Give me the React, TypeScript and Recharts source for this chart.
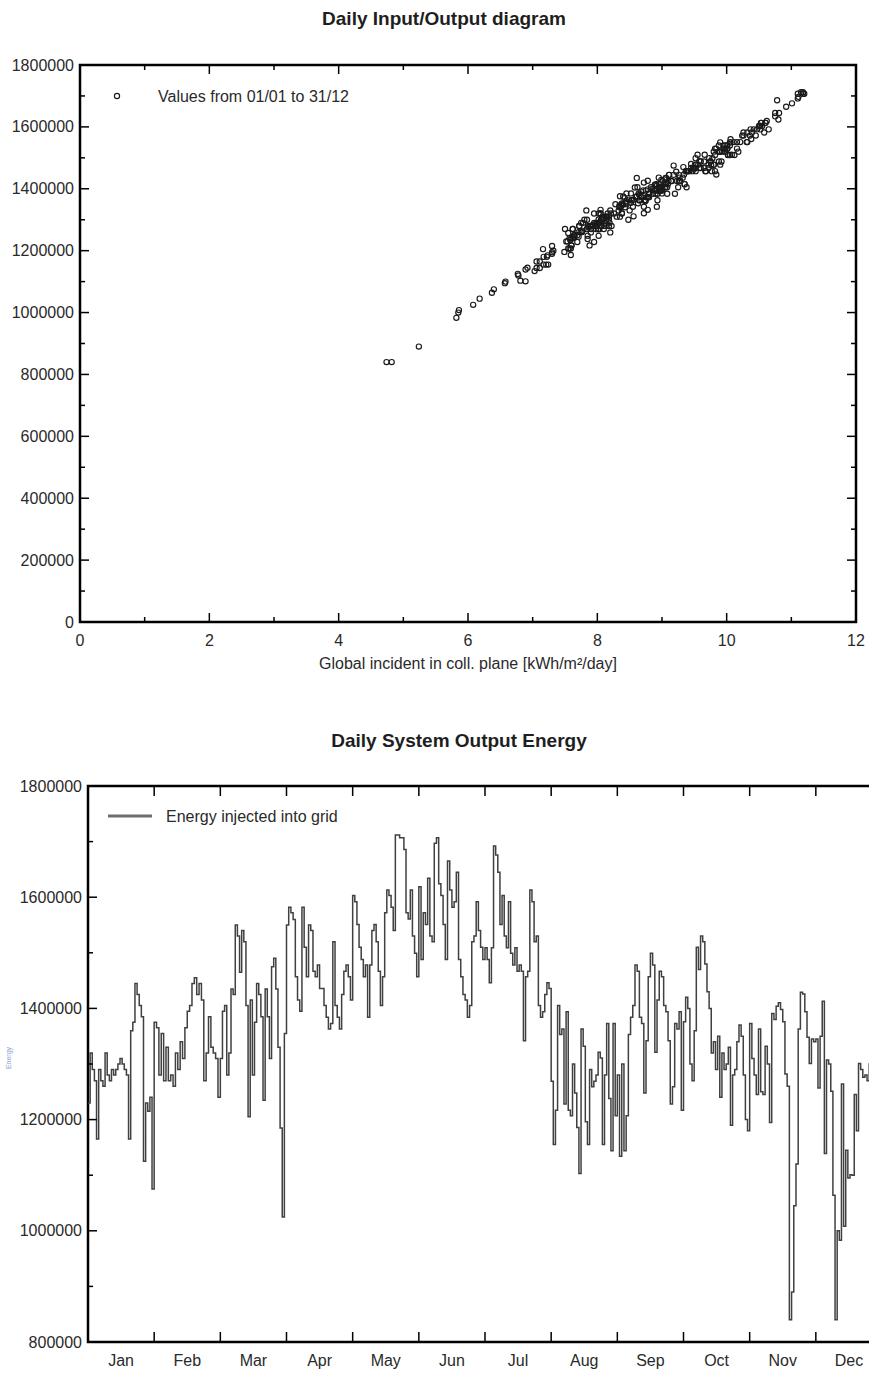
import React from 'react';
import { ScatterChart, Scatter, XAxis, YAxis, ReferenceArea, LineChart, Line } from 'recharts';

// ---------- data ----------
const MONTHS = ['Jan', 'Feb', 'Mar', 'Apr', 'May', 'Jun', 'Jul', 'Aug', 'Sep', 'Oct', 'Nov', 'Dec'];
const DAYS_IN_MONTH = [31, 28, 31, 30, 31, 30, 31, 31, 30, 31, 30, 31];
const ENERGY_UNIT = 1000; // arrays below are in thousands

// daily energy injected into grid (thousands)
const E_JAN = [1230, 1320, 1290, 1270, 1165, 1290, 1270, 1260, 1320, 1280, 1270, 1290, 1280, 1290, 1300, 1310, 1300, 1290, 1280, 1165, 1360, 1375, 1445, 1425, 1405, 1385, 1125, 1230, 1215, 1240, 1075];
const E_FEB = [1375, 1365, 1280, 1355, 1270, 1330, 1270, 1280, 1260, 1320, 1290, 1340, 1310, 1365, 1395, 1405, 1445, 1455, 1425, 1445, 1415, 1270, 1320, 1385, 1330, 1320, 1310, 1240];
const E_MAR = [1310, 1395, 1405, 1280, 1320, 1435, 1425, 1550, 1530, 1465, 1540, 1520, 1405, 1205, 1415, 1280, 1375, 1445, 1425, 1385, 1235, 1435, 1385, 1310, 1475, 1490, 1435, 1330, 1185, 1025, 1355];
const E_APR = [1550, 1582, 1572, 1560, 1457, 1415, 1395, 1582, 1510, 1457, 1550, 1540, 1467, 1457, 1478, 1436, 1436, 1405, 1384, 1363, 1373, 1520, 1405, 1384, 1363, 1425, 1467, 1478, 1457, 1415];
const E_MAY = [1603, 1592, 1551, 1510, 1488, 1457, 1478, 1384, 1478, 1540, 1551, 1520, 1467, 1405, 1457, 1572, 1613, 1603, 1582, 1540, 1712, 1712, 1707, 1707, 1686, 1572, 1561, 1613, 1530, 1499, 1457];
const E_JUN = [1619, 1488, 1572, 1551, 1634, 1530, 1520, 1697, 1707, 1624, 1603, 1551, 1488, 1665, 1613, 1582, 1592, 1645, 1488, 1457, 1425, 1415, 1384, 1405, 1520, 1530, 1592, 1540, 1510, 1488];
const E_JUL = [1509, 1488, 1446, 1509, 1692, 1676, 1645, 1551, 1603, 1530, 1509, 1592, 1499, 1478, 1509, 1467, 1478, 1467, 1342, 1457, 1467, 1613, 1592, 1520, 1530, 1405, 1384, 1394, 1425, 1446, 1436];
const E_AUG = [1269, 1155, 1217, 1405, 1353, 1363, 1228, 1394, 1217, 1207, 1300, 1248, 1186, 1103, 1363, 1332, 1196, 1155, 1290, 1259, 1269, 1280, 1321, 1311, 1155, 1280, 1373, 1238, 1144, 1373, 1207];
const E_SEP = [1280, 1134, 1300, 1144, 1207, 1353, 1384, 1405, 1478, 1467, 1384, 1373, 1248, 1342, 1457, 1499, 1478, 1321, 1415, 1467, 1457, 1405, 1394, 1342, 1228, 1259, 1373, 1363, 1394, 1217];
const E_OCT = [1376, 1420, 1400, 1300, 1270, 1360, 1510, 1470, 1530, 1520, 1480, 1430, 1400, 1320, 1340, 1290, 1350, 1240, 1320, 1290, 1300, 1330, 1190, 1280, 1290, 1340, 1370, 1350, 1280, 1200, 1180];
const E_NOV = [1373, 1310, 1280, 1245, 1363, 1250, 1245, 1332, 1300, 1195, 1391, 1380, 1404, 1410, 1398, 1376, 1282, 1260, 840, 890, 1045, 1120, 1363, 1429, 1426, 1394, 1348, 1301, 1345, 1340];
const E_DEC = [1345, 1257, 1350, 1413, 1139, 1307, 1300, 1251, 1064, 840, 1000, 983, 1264, 1008, 1145, 1095, 1101, 1100, 1245, 1180, 1301, 1290, 1276, 1280, 1270, 1300, 1250, 1290, 1310, 1280, 1260];

// daily global incident irradiation in collector plane (kWh/m2/day)
const I_JAN = [7.54, 8.16, 8.01, 7.62, 7.11, 8.12, 7.84, 7.71, 8.05, 7.89, 7.98, 7.99, 7.72, 7.95, 8.06, 8.30, 8.08, 7.75, 7.91, 7.06, 8.45, 8.40, 9.11, 9.10, 8.83, 8.64, 6.77, 7.52, 7.30, 7.57, 6.40];
const I_FEB = [8.61, 8.49, 8.18, 8.44, 7.62, 8.20, 8.10, 7.89, 7.76, 7.95, 8.04, 8.35, 8.35, 8.56, 8.71, 8.62, 9.11, 9.22, 9.15, 9.18, 8.91, 7.50, 8.21, 8.45, 8.33, 8.38, 8.13, 7.60];
const I_MAR = [8.18, 8.98, 8.95, 7.93, 8.05, 9.06, 9.28, 9.90, 9.82, 9.50, 9.88, 9.80, 9.05, 7.16, 8.96, 8.22, 8.61, 9.26, 9.01, 8.52, 7.58, 8.61, 9.00, 8.15, 9.18, 9.58, 9.06, 7.83, 7.23, 6.08, 8.52];
const I_APR = [10.05, 10.26, 10.45, 10.06, 9.37, 9.35, 8.88, 10.32, 9.55, 9.42, 10.06, 9.95, 9.48, 9.52, 9.53, 9.27, 8.95, 8.99, 8.80, 8.93, 8.68, 9.88, 8.96, 9.08, 8.65, 9.14, 9.50, 9.72, 9.40, 9.06];
const I_MAY = [10.50, 10.37, 10.16, 10.02, 9.60, 9.68, 9.56, 8.93, 9.80, 9.98, 10.11, 10.18, 9.45, 9.25, 9.67, 10.24, 10.53, 10.52, 10.58, 10.01, 11.15, 11.18, 11.18, 11.10, 10.78, 10.26, 10.38, 10.54, 9.98, 9.73, 9.82];
const I_JUN = [10.62, 9.92, 10.36, 10.32, 10.75, 10.16, 9.93, 11.11, 11.20, 10.80, 10.55, 10.31, 9.88, 10.92, 10.60, 10.39, 10.65, 10.75, 9.75, 9.77, 9.23, 9.35, 8.90, 9.38, 9.88, 10.01, 10.52, 10.05, 10.08, 9.65];
const I_JUL = [10.05, 9.75, 9.84, 10.02, 11.10, 11.01, 10.81, 10.21, 10.52, 10.01, 10.12, 10.42, 9.78, 9.90, 9.82, 9.58, 9.80, 9.60, 8.92, 9.47, 9.72, 10.60, 10.47, 9.98, 9.96, 9.08, 9.20, 8.97, 9.26, 9.34, 9.32];
const I_AUG = [8.03, 7.24, 7.88, 9.05, 8.63, 8.75, 7.95, 9.00, 7.60, 7.59, 8.48, 7.85, 7.59, 6.81, 8.73, 8.78, 7.49, 7.21, 8.19, 8.20, 8.01, 8.11, 8.72, 8.56, 7.17, 8.13, 8.80, 7.85, 7.11, 8.78, 7.57];
const I_SEP = [8.06, 7.03, 8.18, 7.06, 7.55, 8.38, 8.86, 8.95, 9.76, 9.50, 8.80, 8.76, 8.02, 8.55, 9.37, 9.52, 9.51, 8.38, 9.09, 9.65, 9.39, 8.98, 8.95, 8.72, 7.69, 7.90, 8.78, 8.65, 8.91, 7.60];
const I_OCT = [8.67, 8.72, 8.88, 8.08, 7.90, 8.74, 9.66, 9.33, 9.84, 9.90, 9.45, 9.04, 8.85, 8.02, 8.43, 8.02, 8.28, 7.62, 8.26, 8.01, 8.14, 8.50, 7.30, 7.93, 8.05, 8.35, 8.42, 8.45, 7.99, 7.32, 7.22];
const I_NOV = [8.60, 8.08, 7.72, 7.64, 8.53, 7.64, 7.71, 8.05, 8.06, 7.30, 8.68, 8.65, 8.58, 8.92, 8.78, 8.35, 7.93, 7.74, 4.82, 5.24, 6.18, 6.78, 8.53, 8.99, 8.78, 8.75, 8.39, 8.07, 8.34, 8.35];
const I_DEC = [8.37, 7.55, 8.38, 8.89, 6.89, 8.09, 7.84, 7.65, 6.37, 4.74, 5.85, 5.82, 7.77, 5.86, 6.92, 6.57, 6.89, 6.58, 7.64, 7.17, 8.02, 7.78, 7.86, 7.93, 7.84, 7.80, 7.69, 7.97, 8.13, 7.86, 7.76];

const MONTH_ENERGY = [E_JAN, E_FEB, E_MAR, E_APR, E_MAY, E_JUN, E_JUL, E_AUG, E_SEP, E_OCT, E_NOV, E_DEC];
const MONTH_IRR = [I_JAN, I_FEB, I_MAR, I_APR, I_MAY, I_JUN, I_JUL, I_AUG, I_SEP, I_OCT, I_NOV, I_DEC];

const X1_TICKS = [0, 1, 2, 3, 4, 5, 6, 7, 8, 9, 10, 11, 12];
const Y1_TICKS = [0, 100000, 200000, 300000, 400000, 500000, 600000, 700000, 800000, 900000, 1000000, 1100000, 1200000, 1300000, 1400000, 1500000, 1600000, 1700000, 1800000];
const Y2_TICKS = [800000, 900000, 1000000, 1100000, 1200000, 1300000, 1400000, 1500000, 1600000, 1700000, 1800000];
const X2_TICKS = [0, 0.5, 1, 1.5, 2, 2.5, 3, 3.5, 4, 4.5, 5, 5.5, 6, 6.5, 7, 7.5, 8, 8.5, 9, 9.5, 10, 10.5, 11, 11.5, 12];

const SCATTER_DATA = MONTH_ENERGY.flatMap((arr, mi) =>
  arr.map((e, di) => ({ irr: MONTH_IRR[mi][di], energy: e * ENERGY_UNIT }))
);
const DAILY_DATA = MONTH_ENERGY.flatMap((arr, mi) =>
  arr.map((e, di) => ({ x: mi + di / DAYS_IN_MONTH[mi], energy: e * ENERGY_UNIT }))
);

// ---------- styling / layout ----------
const FONT = "'Liberation Sans', Arial, Helvetica, sans-serif";
const TEXT = '#2a2a2a';
const TICK_FS = 16;

const P1 = { w: 869, h: 690, left: 80, top: 65, right: 856, bottom: 622 };
const P2 = { offsetTop: 720, w: 895, h: 654, left: 88, top: 66, right: 882, bottom: 622 };

function TopXTick(props: any) {
  const { x, payload } = props;
  const v = payload.value;
  const major = v % 2 === 0;
  const len = major ? 9 : 5;
  const edge = v === 0 || v === 12;
  return (
    <g>
      {!edge && <line x1={x} x2={x} y1={P1.bottom} y2={P1.bottom - len} stroke="#000" strokeWidth={1.5} />}
      {!edge && <line x1={x} x2={x} y1={P1.top} y2={P1.top + len} stroke="#000" strokeWidth={1.5} />}
      {major && (
        <text x={x} y={P1.bottom + 24} textAnchor="middle" fontSize={TICK_FS} fontFamily={FONT} fill={TEXT}>
          {v}
        </text>
      )}
    </g>
  );
}

function TopYTick(props: any) {
  const { y, payload } = props;
  const v = payload.value;
  const major = v % 200000 === 0;
  const len = major ? 9 : 5;
  const edge = v === 0 || v === 1800000;
  return (
    <g>
      {!edge && <line x1={P1.left} x2={P1.left + len} y1={y} y2={y} stroke="#000" strokeWidth={1.5} />}
      {!edge && <line x1={P1.right} x2={P1.right - len} y1={y} y2={y} stroke="#000" strokeWidth={1.5} />}
      {major && (
        <text x={P1.left - 6} y={y + 5.5} textAnchor="end" fontSize={TICK_FS} fontFamily={FONT} fill={TEXT}>
          {v}
        </text>
      )}
    </g>
  );
}

function BottomXTick(props: any) {
  const { x, payload } = props;
  const v = payload.value;
  if (Number.isInteger(v)) {
    if (v === 0 || v === 12) return <g />;
    return (
      <g>
        <line x1={x} x2={x} y1={P2.bottom} y2={P2.bottom - 10} stroke="#000" strokeWidth={1.5} />
        <line x1={x} x2={x} y1={P2.top} y2={P2.top + 10} stroke="#000" strokeWidth={1.5} />
      </g>
    );
  }
  return (
    <text x={x} y={P2.bottom + 24} textAnchor="middle" fontSize={TICK_FS} fontFamily={FONT} fill={TEXT}>
      {MONTHS[Math.floor(v)]}
    </text>
  );
}

function BottomYTick(props: any) {
  const { y, payload } = props;
  const v = payload.value;
  const major = v % 200000 === 0;
  const len = major ? 9 : 5;
  const edge = v === 800000 || v === 1800000;
  return (
    <g>
      {!edge && <line x1={P2.left} x2={P2.left + len} y1={y} y2={y} stroke="#000" strokeWidth={1.5} />}
      {major && (
        <text x={P2.left - 6} y={y + 5.5} textAnchor="end" fontSize={TICK_FS} fontFamily={FONT} fill={TEXT}>
          {v}
        </text>
      )}
    </g>
  );
}

const CircleMarker = (p: any) => (
  <circle cx={p.cx} cy={p.cy} r={2.6} fill="none" stroke="#1a1a1a" strokeWidth={1.15} />
);

export default function App() {
  return (
    <div style={{ position: 'absolute', left: 0, top: 0, width: 869, height: 1374, overflow: 'hidden', background: '#fff' }}>
      <div style={{ position: 'absolute', left: 0, top: 0 }}>
        <ScatterChart
          width={P1.w}
          height={P1.h}
          margin={{ top: P1.top, right: P1.w - P1.right, bottom: 0, left: 0 }}
        >
          <XAxis
            type="number"
            dataKey="irr"
            domain={[0, 12]}
            ticks={X1_TICKS}
            interval={0}
            tickLine={false}
            tickSize={0}
            axisLine={false}
            height={P1.h - P1.bottom}
            tick={(p: any) => <TopXTick {...p} />}
            label={{
              value: 'Global incident in coll. plane [kWh/m²/day]',
              position: 'insideBottom',
              offset: 21,
              fill: TEXT,
              fontSize: 16,
              fontFamily: FONT,
            }}
          />
          <YAxis
            type="number"
            dataKey="energy"
            domain={[0, 1800000]}
            ticks={Y1_TICKS}
            interval={0}
            tickLine={false}
            tickSize={0}
            axisLine={false}
            width={P1.left}
            tick={(p: any) => <TopYTick {...p} />}
          />
          <Scatter data={SCATTER_DATA} shape={CircleMarker} isAnimationActive={false} />
          <ReferenceArea x1={0} x2={12} y1={0} y2={1800000} fill="none" stroke="#000" strokeWidth={2.5} />
        </ScatterChart>
      </div>

      <div style={{ position: 'absolute', left: 0, top: P2.offsetTop }}>
        <LineChart
          width={P2.w}
          height={P2.h}
          data={DAILY_DATA}
          margin={{ top: P2.top, right: P2.w - P2.right, bottom: 0, left: 0 }}
        >
          <XAxis
            type="number"
            dataKey="x"
            domain={[0, 12]}
            ticks={X2_TICKS}
            interval={0}
            tickLine={false}
            tickSize={0}
            axisLine={false}
            height={P2.h - P2.bottom}
            tick={(p: any) => <BottomXTick {...p} />}
          />
          <YAxis
            type="number"
            domain={[800000, 1800000]}
            ticks={Y2_TICKS}
            interval={0}
            tickLine={false}
            tickSize={0}
            axisLine={false}
            width={P2.left}
            tick={(p: any) => <BottomYTick {...p} />}
          />
          <Line
            type="stepAfter"
            dataKey="energy"
            stroke="#404040"
            strokeWidth={1.5}
            dot={false}
            isAnimationActive={false}
          />
          <ReferenceArea x1={0} x2={12} y1={800000} y2={1800000} fill="none" stroke="#000" strokeWidth={2.5} />
        </LineChart>
      </div>

      <svg
        width={869}
        height={1374}
        style={{ position: 'absolute', left: 0, top: 0, pointerEvents: 'none' }}
        fontFamily={FONT}
      >
        <text x={444} y={25} textAnchor="middle" fontWeight="bold" fontSize={19} fill="#1e1e1e">
          Daily Input/Output diagram
        </text>
        <circle cx={117} cy={96} r={2.6} fill="none" stroke="#1a1a1a" strokeWidth={1.15} />
        <text x={158} y={101.5} fontSize={16} fill={TEXT}>
          Values from 01/01 to 31/12
        </text>

        <text x={459} y={747} textAnchor="middle" fontWeight="bold" fontSize={19} fill="#1e1e1e">
          Daily System Output Energy
        </text>
        <line x1={108} x2={152} y1={816} y2={816} stroke="#6e6e6e" strokeWidth={3} />
        <text x={166} y={821.5} fontSize={16} fill={TEXT}>
          Energy injected into grid
        </text>
        <text x={11} y={1058} transform="rotate(-90 11 1058)" textAnchor="middle" fontSize={7} fill="#8ea3cf">
          Energy
        </text>
      </svg>
    </div>
  );
}
